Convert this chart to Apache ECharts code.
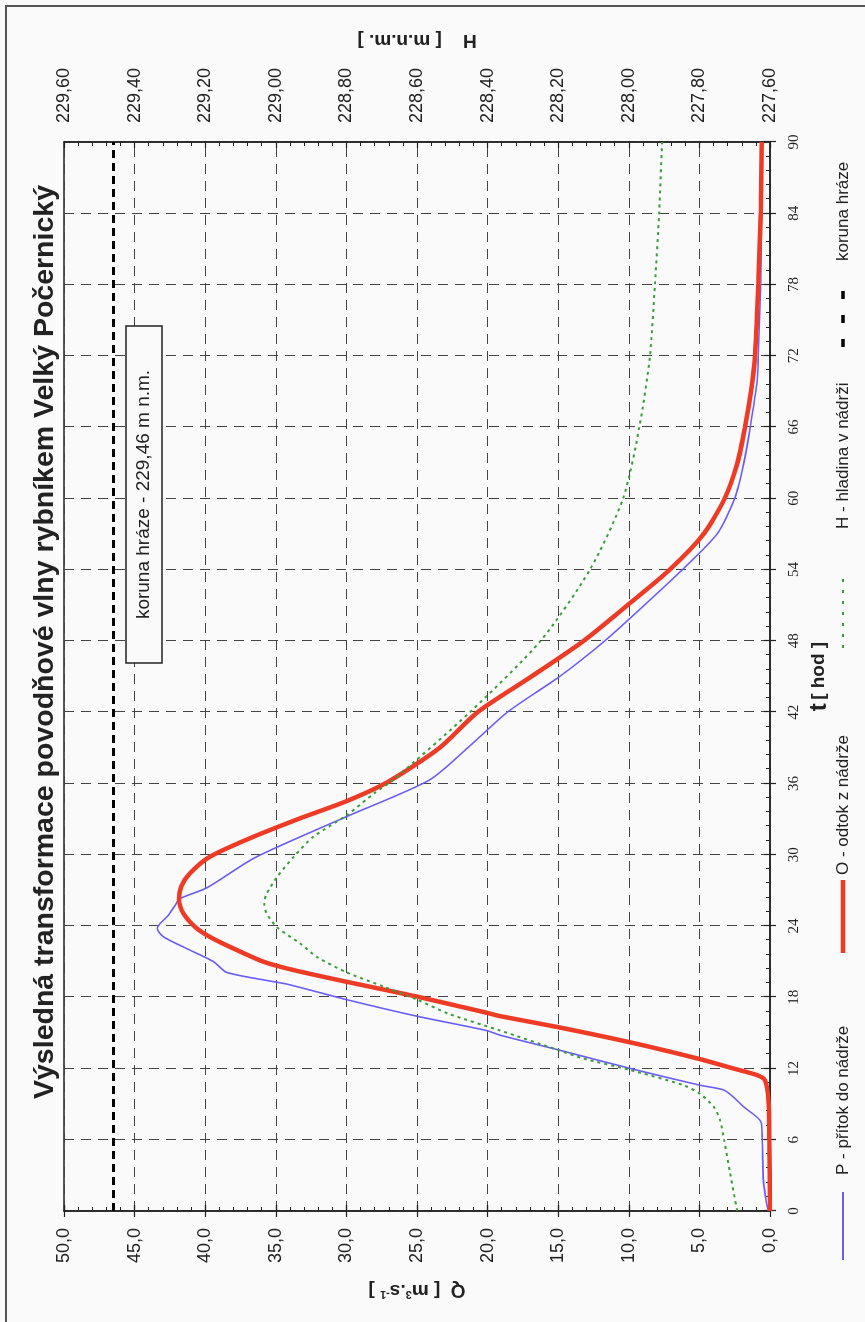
<!DOCTYPE html>
<html>
<head>
<meta charset="utf-8">
<script src="https://cdn.jsdelivr.net/npm/echarts@6/dist/echarts.min.js"></script>
<style>
html,body{margin:0;padding:0;width:865px;height:1322px;overflow:hidden;background:#fafafa;}
#c{position:absolute;left:0;top:0;width:1322px;height:865px;transform-origin:0 0;transform:translateY(1322px) rotate(-90deg);}
</style>
</head>
<body>
<div id="c"></div>
<script>
// ---- data (t in hours) ----
const tP = [0, 0.9, 2.6, 6, 7.5, 8.8, 9.6, 10.2, 10.6, 12.0, 13.6, 14.8, 15.2, 16.4, 17.8, 19.1, 19.4, 20.1, 20.9, 21.3, 22.2, 23.1, 23.8, 24.2, 24.9, 25.8, 26.3, 27.2, 29.8, 33.2, 36.3, 39, 42, 45, 48, 51, 54, 57, 60, 63, 66, 70, 72, 78, 84, 90];
const qP = [0.1, 0.28, 0.47, 0.55, 0.64, 1.9, 2.6, 3.3, 5.0, 9.9, 15.1, 19.1, 20.1, 25.0, 30.0, 34.2, 35.6, 38.5, 39.3, 39.9, 41.5, 42.97, 43.4, 43.2, 42.6, 42.1, 41.8, 39.9, 36.4, 30.0, 24.1, 21.4, 18.6, 14.9, 11.7, 8.9, 6.2, 3.75, 2.5, 1.85, 1.4, 0.9, 0.83, 0.66, 0.6, 0.55];

const tO = [0, 6, 9.3, 11, 11.45, 12.0, 12.8, 14.2, 15.5, 16.4, 16.7, 18.05, 19.3, 20.3, 21.0, 22.1, 23.1, 23.9, 25.06, 26.2, 27.3, 28.4, 29.8, 31.4, 33.05, 34.5, 36.1, 39, 42, 45, 48, 51, 54, 57, 60, 63, 66, 69, 72, 78, 84, 90];
const qO = [0, 0.05, 0.1, 0.35, 0.94, 2.6, 5.0, 9.9, 15.1, 19.1, 20.1, 25.0, 30.0, 33.8, 35.9, 38.0, 39.7, 40.7, 41.55, 41.86, 41.7, 41.1, 39.7, 36.8, 33.3, 30.0, 27.1, 23.4, 20.7, 16.9, 13.2, 10.1, 7.1, 4.7, 3.2, 2.3, 1.77, 1.35, 1.06, 0.83, 0.66, 0.59];

const tH = [0, 3.2, 6, 7.7, 8.8, 9.9, 10.6, 11.9, 12.85, 13.55, 15.2, 16.6, 17.8, 18.9, 20.1, 21.4, 22.5, 23.9, 25.06, 25.9, 26.7, 28.1, 29.8, 31.5, 33.3, 35.2, 36.3, 42, 48, 54, 60, 66, 72, 78, 84, 90];
const hH = [227.693, 227.713, 227.73, 227.742, 227.76, 227.80, 227.846, 228.0, 228.13, 228.20, 228.365, 228.51, 228.60, 228.695, 228.80, 228.884, 228.93, 228.997, 229.026, 229.033, 229.026, 228.997, 228.95, 228.894, 228.80, 228.72, 228.667, 228.45, 228.25, 228.11, 228.016, 227.97, 227.94, 227.926, 227.914, 227.906];

const tCrest = [0, 90];
const hCrest = [229.46, 229.46];

const titleText = 'Výsledná transformace povodňové vlny rybníkem Velký Počernický';
const crestBoxText = 'koruna hráze - 229,46 m n.m.';
const legendNames = ['P - přítok do nádrže', 'O - odtok z nádrže', 'H - hladina v nádrži', 'koruna hráze'];

const zip = (a, b) => a.map((v, i) => [v, b[i]]);
const comma = (d) => (v) => v.toFixed(d).replace('.', ',');

const INK = '#222';
const SANS = "'Liberation Sans', Arial, sans-serif";
const SERIF = "'Liberation Serif', 'Times New Roman', serif";

const chart = echarts.init(document.getElementById('c'), null, {renderer: 'canvas', width: 1322, height: 865});

const splitDash = {show: true, lineStyle: {color: '#444', width: 1, type: [10, 7]}};
const tickIn = {show: true, inside: true, length: 6, lineStyle: {color: INK, width: 1.2}};
const tickOut = {show: true, inside: false, length: 6, lineStyle: {color: INK, width: 1.2}};
const minorIn = (n) => ({show: true, splitNumber: n, length: 4, lineStyle: {color: INK, width: 1}});

chart.setOption({
  backgroundColor: '#fafafa',
  animation: false,
  grid: {left: 111, right: 142, top: 64, bottom: 95, show: true, borderColor: INK, borderWidth: 1.5, backgroundColor: 'transparent'},
  xAxis: [
    {type: 'value', min: 0, max: 90, interval: 6, position: 'bottom',
     axisLine: {show: true, onZero: false, lineStyle: {color: INK, width: 1.5}},
     axisTick: tickIn, minorTick: minorIn(5), splitLine: splitDash,
     axisLabel: {margin: 17, fontFamily: SERIF, fontSize: 15, color: INK},
     name: '{t|t} {b|[ hod ]}', nameLocation: 'middle', nameGap: 36,
     nameTextStyle: {rich: {t: {fontFamily: SANS, fontWeight: 'bold', fontSize: 24, color: INK}, b: {fontFamily: SANS, fontWeight: 'bold', fontSize: 19, color: INK}}}},
    {type: 'value', min: 0, max: 90, interval: 6, position: 'bottom',
     axisLine: {show: false}, axisTick: tickOut, axisLabel: {show: false}, splitLine: {show: false}}
  ],
  yAxis: [
    {type: 'value', min: 0, max: 50, interval: 5, position: 'left',
     axisLine: {show: true, onZero: false, lineStyle: {color: INK, width: 1.5}},
     axisTick: tickIn, minorTick: minorIn(5), splitLine: splitDash,
     axisLabel: {margin: 17, fontFamily: SANS, fontSize: 18, color: INK, formatter: comma(1)},
     name: 'Q  [ m{s|3}.s{s|-1} ]', nameLocation: 'middle', nameRotate: 90, nameGap: 70,
     nameTextStyle: {fontFamily: SANS, fontWeight: 'bold', fontSize: 19, color: INK, rich: {s: {fontFamily: SANS, fontWeight: 'bold', fontSize: 11, verticalAlign: 'top', color: INK, padding: [0, 0, 8, 0]}}}},
    {type: 'value', min: 0, max: 50, interval: 5, position: 'left',
     axisLine: {show: false}, axisTick: tickOut, axisLabel: {show: false}, splitLine: {show: false}},
    {type: 'value', min: 227.6, max: 229.6, interval: 0.2, position: 'right',
     axisLine: {show: true, onZero: false, lineStyle: {color: INK, width: 1.5}},
     axisTick: tickIn, minorTick: minorIn(5), splitLine: {show: false},
     axisLabel: {margin: 19, fontFamily: SANS, fontSize: 18, color: INK, formatter: comma(2)},
     name: 'H    [ m.n.m. ]', nameLocation: 'middle', nameRotate: 90, nameGap: 92,
     nameTextStyle: {fontFamily: SANS, fontWeight: 'bold', fontSize: 19, color: INK}},
    {type: 'value', min: 227.6, max: 229.6, interval: 0.2, position: 'right',
     axisLine: {show: false}, axisTick: tickOut, axisLabel: {show: false}, splitLine: {show: false}}
  ],
  series: [
    {name: legendNames[0], type: 'line', xAxisIndex: 0, yAxisIndex: 0, data: zip(tP, qP), showSymbol: false, smooth: 0.25,
     lineStyle: {color: '#6b5cf8', width: 1.6}, z: 3},
    {name: legendNames[1], type: 'line', xAxisIndex: 0, yAxisIndex: 0, data: zip(tO, qO), showSymbol: false, smooth: 0.25,
     lineStyle: {color: '#ee3b25', width: 4.5}, z: 4},
    {name: legendNames[2], type: 'line', xAxisIndex: 0, yAxisIndex: 2, data: zip(tH, hH), showSymbol: false, smooth: 0.25,
     lineStyle: {color: '#3a9d3a', width: 2, type: [3, 4]}, z: 5},
    {name: legendNames[3], type: 'line', xAxisIndex: 0, yAxisIndex: 2, data: zip(tCrest, hCrest), showSymbol: false,
     lineStyle: {color: '#000', width: 3, type: [8, 5]}, z: 5}
  ],
  graphic: [
    {type: 'rect', shape: {x: -10, y: 6, width: 1326, height: 880}, style: {fill: 'none', stroke: '#555', lineWidth: 2}, silent: true},
    {type: 'text', x: 680, y: 45, style: {text: titleText, font: "bold 28.5px 'Liberation Sans', Arial, sans-serif", fill: INK, textAlign: 'center', textVerticalAlign: 'middle'}},
    {type: 'rect', shape: {x: 659, y: 126, width: 337, height: 36}, style: {fill: '#fafafa', stroke: INK, lineWidth: 1.5}, z: 10},
    {type: 'text', x: 827.5, y: 144, style: {text: crestBoxText, font: "19px 'Liberation Sans', Arial, sans-serif", fill: INK, textAlign: 'center', textVerticalAlign: 'middle'}, z: 11},
    // legend
    {type: 'line', shape: {x1: 62, y1: 843, x2: 130, y2: 843}, style: {stroke: '#6b5cf8', lineWidth: 2}},
    {type: 'text', x: 147, y: 843, style: {text: legendNames[0], font: "17px 'Liberation Sans', Arial, sans-serif", fill: INK, textVerticalAlign: 'middle'}},
    {type: 'line', shape: {x1: 369, y1: 843, x2: 442, y2: 843}, style: {stroke: '#ee3b25', lineWidth: 4.5}},
    {type: 'text', x: 447, y: 843, style: {text: legendNames[1], font: "17px 'Liberation Sans', Arial, sans-serif", fill: INK, textVerticalAlign: 'middle'}},
    {type: 'line', shape: {x1: 674, y1: 843, x2: 747, y2: 843}, style: {stroke: '#3a9d3a', lineWidth: 2, lineDash: [3, 8]}},
    {type: 'text', x: 793, y: 843, style: {text: legendNames[2], font: "17px 'Liberation Sans', Arial, sans-serif", fill: INK, textVerticalAlign: 'middle'}},
    {type: 'line', shape: {x1: 975, y1: 843, x2: 1045, y2: 843}, style: {stroke: '#000', lineWidth: 3.5, lineDash: [8, 16]}},
    {type: 'text', x: 1061, y: 843, style: {text: legendNames[3], font: "17px 'Liberation Sans', Arial, sans-serif", fill: INK, textVerticalAlign: 'middle'}}
  ]
});
</script>
</body>
</html>
